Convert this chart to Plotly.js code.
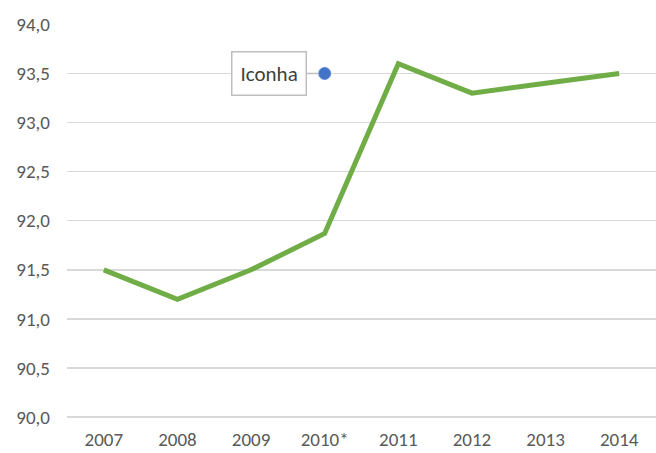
<!DOCTYPE html>
<html>
<head>
<meta charset="utf-8">
<script src="https://cdn.plot.ly/plotly-3.0.1.min.js"></script>
<style>html,body{margin:0;padding:0;background:#fff;}#chart{width:656px;height:453px;}</style>
</head>
<body>
<div id="chart"></div>
<script>
const years = ["2007", "2008", "2009", "2010*", "2011", "2012", "2013", "2014"];
const values = [91.5, 91.2, 91.5, 91.87, 93.6, 93.3, 93.4, 93.5];
const pointLabel = "Iconha";
const pointX = ["2010*"];
const pointY = [93.5];
const yTicks = [90, 90.5, 91, 91.5, 92, 92.5, 93, 93.5, 94];

const font = 'Carlito, Calibri, Lato, sans-serif';

const traces = [
  {
    x: years, y: values, type: "scatter", mode: "lines",
    line: {color: "#70AD47", width: 5, shape: "linear"},
    hoverinfo: "skip"
  },
  {
    x: pointX, y: pointY, type: "scatter", mode: "markers",
    marker: {color: "#4472C4", size: 12, line: {color: "#5B8BD6", width: 1}},
    hoverinfo: "skip"
  }
];

const layout = {
  width: 656, height: 453,
  margin: {l: 67, r: 0, t: 24, b: 31},
  paper_bgcolor: "#fff", plot_bgcolor: "#fff",
  separators: ", ",
  showlegend: false,
  font: {family: font, size: 19, color: "#595959"},
  xaxis: {
    type: "category", range: [-0.5, 7.5],
    showgrid: false, zeroline: false, showline: false,
    ticks: "", ticklabelstandoff: 4,
    tickfont: {family: font, size: 19, color: "#595959"}
  },
  yaxis: {
    range: [89.95, 94.004], tickvals: yTicks, tickformat: ".1f",
    showgrid: true, gridcolor: "#d9d9d9", gridwidth: 1.5,
    zeroline: false, showline: false, ticks: "",
    ticklabelstandoff: 16,
    tickfont: {family: font, size: 19, color: "#595959"}
  },
  annotations: [{
    x: pointX[0], y: pointY[0], xref: "x", yref: "y",
    text: pointLabel, showarrow: true, arrowhead: 0, arrowwidth: 1.5,
    arrowcolor: "#bfbfbf", ax: -56, ay: 0, standoff: 6,
    bgcolor: "#fff", bordercolor: "#bfbfbf", borderwidth: 1.5, borderpad: 8,
    font: {family: font, size: 21, color: "#404040"}
  }]
};

Plotly.newPlot("chart", traces, layout, {staticPlot: true, displayModeBar: false});
</script>
</body>
</html>
